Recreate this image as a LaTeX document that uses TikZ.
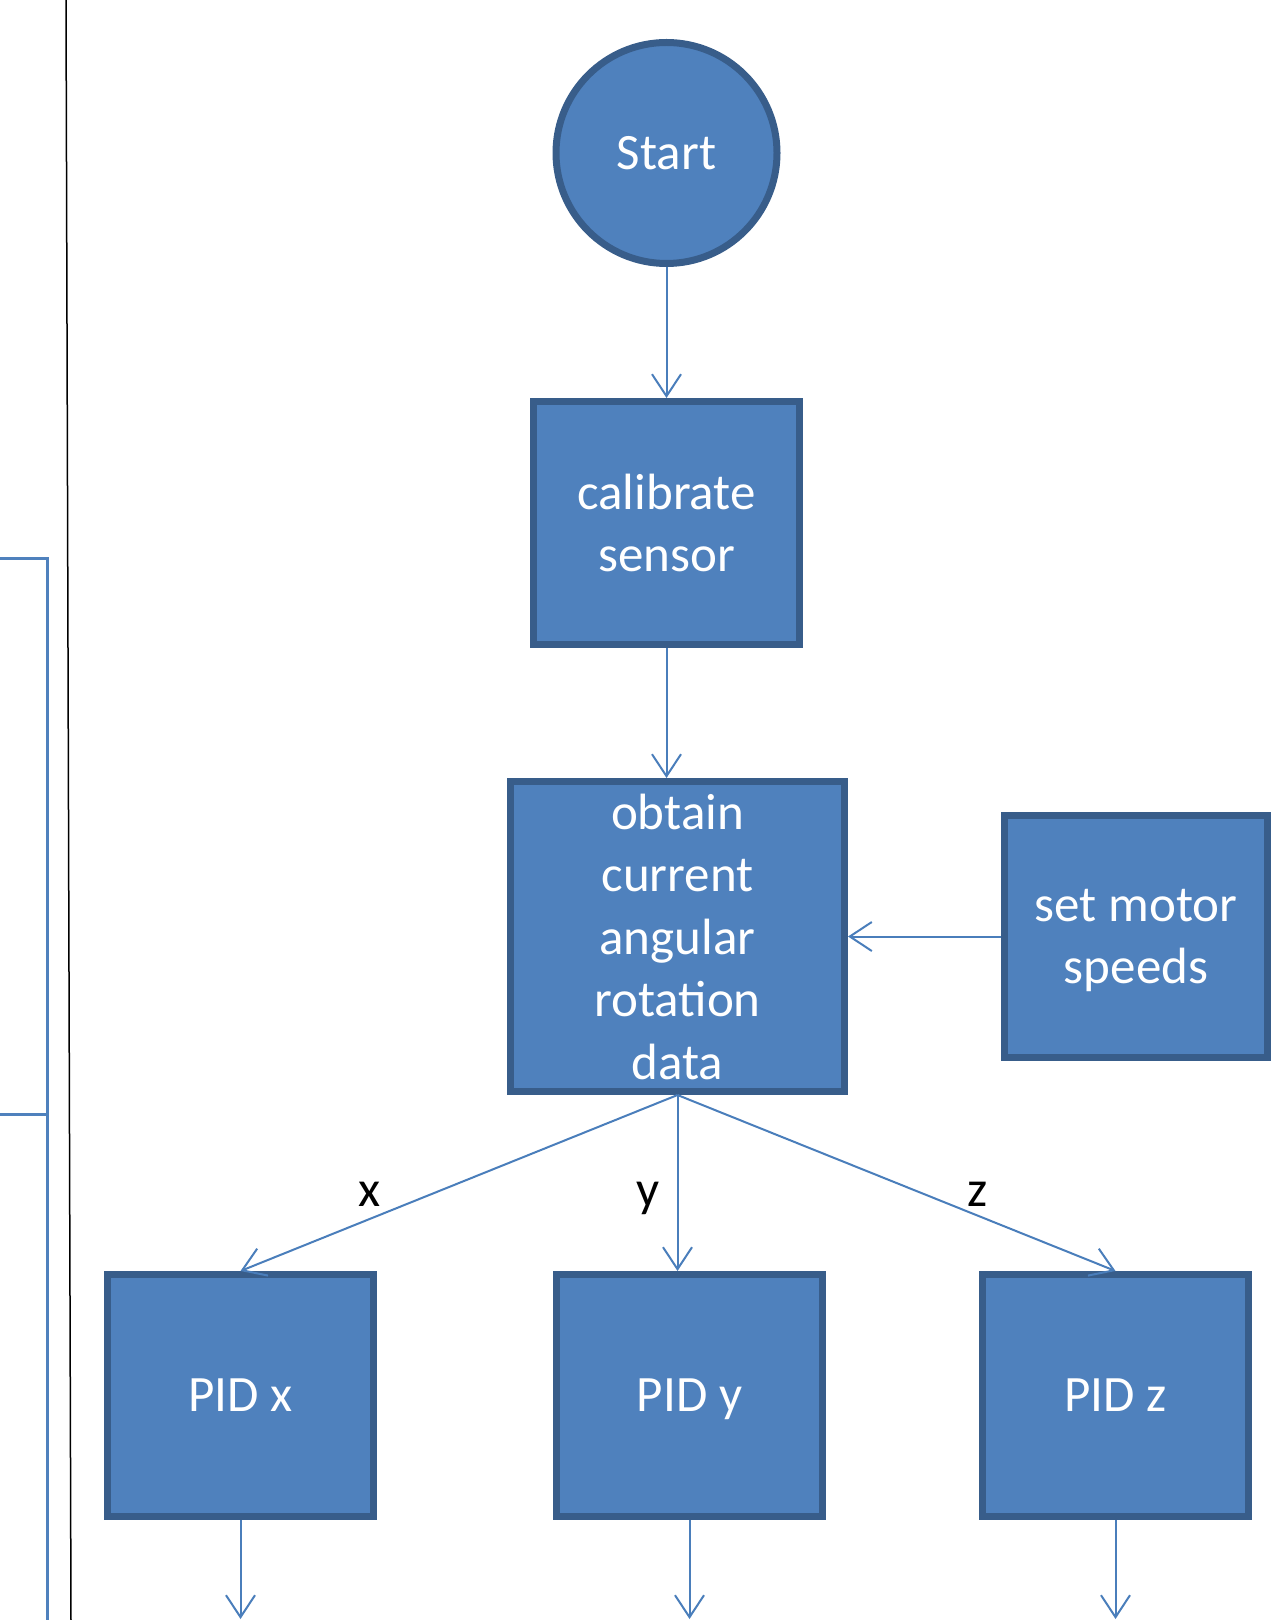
\documentclass[tikz,border=0pt]{standalone}
\usepackage{fontspec}
\setmainfont{Carlito}
\usetikzlibrary{arrows.meta,calc}
\definecolor{boxfill}{HTML}{4F81BD}
\definecolor{boxline}{HTML}{385D8A}
\definecolor{conn}{HTML}{4A7EBB}
\begin{document}
\begin{tikzpicture}[x=0.5pt,y=-0.5pt,
  stepbox/.style={rectangle, draw=boxline, fill=boxfill, line width=3.5pt,
    text=white, font=\fontsize{25.5}{31.25}\selectfont, align=center, inner sep=0pt},
  startbox/.style={circle, draw=boxline, fill=boxfill, line width=3.5pt,
    text=white, font=\fontsize{25.5}{31.25}\selectfont, inner sep=0pt, minimum size=110.5pt},
  conn/.style={draw=conn, line width=1pt, -{Straight Barb[length=11pt,width=14.5pt]}},
  lbl/.style={font=\fontsize{25.5}{31.25}\selectfont, text=black, anchor=base, inner sep=0pt}]
\useasboundingbox (0,0) rectangle (1273,1620);
% left decorations
\draw[black, line width=0.75pt] (66,0) -- (71,1620);
\draw[boxfill, line width=1.5pt] (0,558) -- (47.5,558) -- (47.5,1621);
\draw[boxfill, line width=1.5pt] (0,1114) -- (47.5,1114);
% nodes
\node[startbox] (start) at (666.5,153) {Start};
\node[stepbox, minimum width=133pt, minimum height=121.5pt] (cal) at (666.5,523) {calibrate\\sensor};
\node[stepbox, minimum width=167pt, minimum height=155pt] (obt) at (677.5,936.5) {obtain\\current\\angular\\rotation\\data};
\node[stepbox, minimum width=131.5pt, minimum height=121pt] (mot) at (1136,936.5) {set motor\\s\smash{p}eeds};
\node[stepbox, minimum width=133pt, minimum height=121pt] (pidx) at (240.5,1395.5) {PID x};
\node[stepbox, minimum width=133pt, minimum height=121pt] (pidy) at (689.5,1395.5) {PID \smash{y}};
\node[stepbox, minimum width=133pt, minimum height=121pt] (pidz) at (1115.5,1395.5) {PID z};
% free ends
\coordinate (ex) at (240.5,1619);
\coordinate (ey) at (689.5,1619);
\coordinate (ez) at (1115.5,1619);
% connectors
\draw[conn] (start.south) -- (cal.north);
\draw[conn] (cal.south) -- (cal.south |- obt.north);
\draw[conn] (mot.west) -- (obt.east);
\draw[conn] (obt.south) -- (pidx.north);
\draw[conn] (obt.south) -- (obt.south |- pidy.north);
\draw[conn] (obt.south) -- (pidz.north);
\draw[conn] (pidx.south) -- (ex);
\draw[conn] (pidy.south) -- (ey);
\draw[conn] (pidz.south) -- (ez);
% labels
\node[lbl] (lx) at (370,1206) {x};
\node[lbl] (ly) at (648,1206) {y};
\node[lbl] (lz) at (978,1206) {z};
\end{tikzpicture}
\end{document}
